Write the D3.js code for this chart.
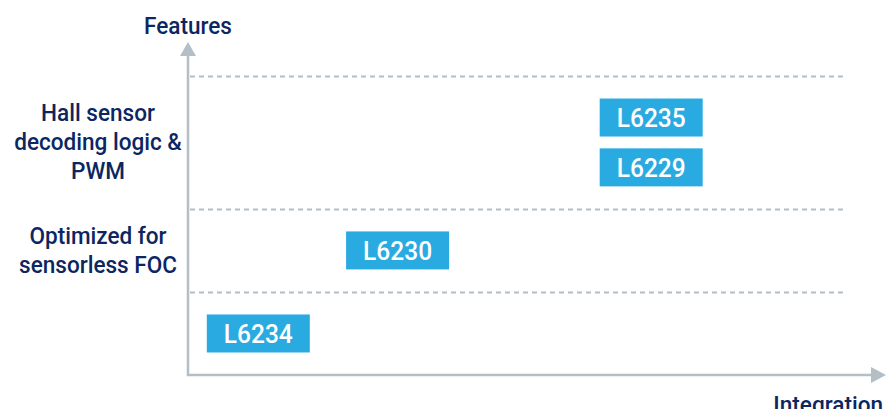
<!DOCTYPE html>
<html>
<head>
<meta charset="utf-8">
<script src="https://cdn.jsdelivr.net/npm/d3@7"></script>
<style>
  body { margin: 0; background: #fff; }
  svg text { font-family: Roboto, "Noto Sans", sans-serif; font-weight: 500; }
</style>
</head>
<body>
<div id="chart"></div>
<script>
/* data */
var parts = ["L6234", "L6230", "L6229", "L6235"];
var integration = [10.7, 31.9, 70.5, 70.5];   // x position (centre), 0..100
var featureLevel = [0.5, 1.5, 2.5, 3.1];      // y position (centre), feature units

var featureNames = ["Optimized for\nsensorless FOC", "Hall sensor\ndecoding logic &\nPWM"];
var featureCentres = [1.5, 2.8];
var bandEdges = [1, 2, 3.6];

function plotMap() {
    var width = 886,
        height = 409,
        x0 = 188,
        y0 = 375;

    var svg = d3.select("#chart").append("svg")
        .attr("width", width)
        .attr("height", height);

    var x = d3.scaleLinear()
        .domain([0, 100])
        .range([x0, 845]);

    var y = d3.scaleLinear()
        .domain([0, 3.6])
        .range([y0, 76]);

    var axisColor = "#b3bec6",
        navy = "#0b2660",
        boxColor = "#29abe2",
        boxW = 103,
        boxH = 38;

    // condensed look: measure Roboto and squeeze it horizontally
    var probe = svg.append("text").style("font-size", "23px").text("Features");
    var squeeze = 88 / probe.node().getComputedTextLength();
    probe.remove();

    function label(sel, px, py) {
        return sel.append("g")
            .attr("transform", "translate(" + px + "," + py + ") scale(" + squeeze + ",1)")
            .append("text");
    }

    // dashed band separators
    svg.selectAll(".grid")
        .data(bandEdges)
        .enter().append("line")
        .attr("class", "grid")
        .attr("x1", x0 + 2)
        .attr("x2", x(100))
        .attr("y1", function(d) { return Math.round(y(d)) + 0.5; })
        .attr("y2", function(d) { return Math.round(y(d)) + 0.5; })
        .attr("stroke", axisColor)
        .attr("stroke-width", 2)
        .attr("stroke-dasharray", "5,4");

    // axes with arrow heads
    svg.append("line")
        .attr("x1", x0).attr("x2", x0)
        .attr("y1", y0 + 1).attr("y2", 54)
        .attr("stroke", axisColor)
        .attr("stroke-width", 2.5);
    svg.append("path")
        .attr("d", "M" + (x0 - 8) + ",56L" + x0 + ",42L" + (x0 + 8) + ",56Z")
        .attr("fill", axisColor);

    svg.append("line")
        .attr("x1", x0 - 1).attr("x2", 873)
        .attr("y1", y0).attr("y2", y0)
        .attr("stroke", axisColor)
        .attr("stroke-width", 2.5);
    svg.append("path")
        .attr("d", "M871," + (y0 - 8) + "L886," + y0 + "L871," + (y0 + 8) + "Z")
        .attr("fill", axisColor);

    // axis titles
    label(svg, x0, 34)
        .attr("text-anchor", "middle")
        .attr("fill", navy)
        .style("font-size", "23px")
        .text("Features");

    label(svg, 883, 413)
        .attr("text-anchor", "end")
        .attr("fill", navy)
        .style("font-size", "23px")
        .text("Integration");

    // feature labels
    featureNames.forEach(function(d, i) {
        var lines = d.split("\n"),
            lh = 29,
            cy = y(featureCentres[i]);
        label(svg, 98, cy)
            .attr("text-anchor", "middle")
            .attr("fill", navy)
            .style("font-size", "23px")
            .selectAll("tspan")
            .data(lines)
            .enter().append("tspan")
            .attr("x", 0)
            .attr("y", function(l, j) {
                return (j - (lines.length - 1) / 2) * lh + 8;
            })
            .text(function(l) { return l; });
    });

    // part boxes
    var part = svg.selectAll(".part")
        .data(parts)
        .enter().append("g")
        .attr("class", "part")
        .attr("transform", function(d, i) {
            return "translate(" + x(integration[i]) + "," + y(featureLevel[i]) + ")";
        });

    part.append("rect")
        .attr("x", -boxW / 2)
        .attr("y", -boxH / 2)
        .attr("width", boxW)
        .attr("height", boxH)
        .attr("fill", boxColor);

    part.append("text")
        .attr("transform", "scale(" + squeeze + ",1)")
        .attr("text-anchor", "middle")
        .attr("dy", "0.37em")
        .attr("fill", "#fff")
        .style("font-size", "25px")
        .text(function(d) { return d; });
}

plotMap();
</script>
</body>
</html>
